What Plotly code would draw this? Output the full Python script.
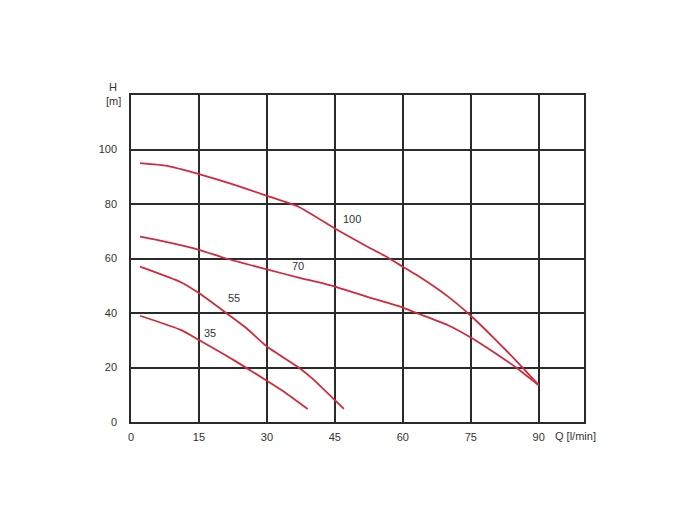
import plotly.graph_objects as go

q_100 = [2, 8, 15, 22, 30, 37, 45, 52, 56, 60, 63, 70, 75, 80, 85, 90]
h_100 = [95, 94, 91, 87.5, 83, 79, 71, 64.5, 61, 57, 54, 46, 39, 31, 22.5, 13.5]

q_70 = [2, 8, 15, 21, 30, 37, 45, 52, 60, 63, 70, 75, 81, 85, 90]
h_70 = [68, 66, 63.2, 60, 56, 53, 49.7, 46, 42, 40, 35.5, 31, 24.6, 20, 13.5]

q_55 = [2, 11, 15, 21, 25.5, 30, 37, 40, 45, 47]
h_55 = [57, 51.3, 47.3, 40, 34.4, 27.7, 20, 16, 8, 4.8]

q_35 = [2, 11, 15, 22.6, 30, 34.3, 39]
h_35 = [39, 33.8, 30.1, 22.8, 15.1, 10.5, 4.8]

curve_names = ["100", "70", "55", "35"]
label_q = [48.8, 36.8, 22.8, 17.4]
label_h = [74.6, 57.4, 45.6, 32.7]

x_ticks = [0, 15, 30, 45, 60, 75, 90]
y_ticks = [0, 20, 40, 60, 80, 100]

RED = "#d22a3c"
GRID = "#2b2b2b"
TXT = "#333333"
FONT = "Liberation Sans, Arial, sans-serif"

fig = go.Figure()
for q, h in [(q_100, h_100), (q_70, h_70), (q_55, h_55), (q_35, h_35)]:
    fig.add_trace(go.Scatter(x=q, y=h, mode="lines",
                             line=dict(color=RED, width=1.8, shape="spline", smoothing=0.5),
                             showlegend=False, hoverinfo="skip"))

for name, lq, lh in zip(curve_names, label_q, label_h):
    fig.add_annotation(x=lq, y=lh, text=name, showarrow=False,
                       font=dict(family=FONT, size=11, color=TXT))

fig.add_annotation(xref="paper", yref="paper", x=0, y=1, xshift=-18, yshift=8,
                   xanchor="center", yanchor="middle", text="H",
                   showarrow=False, font=dict(family=FONT, size=11, color=TXT))
fig.add_annotation(xref="paper", yref="paper", x=0, y=1, xshift=-18, yshift=-6,
                   xanchor="center", yanchor="middle", text="[m]",
                   showarrow=False, font=dict(family=FONT, size=11, color=TXT))
fig.add_annotation(xref="paper", yref="paper", x=1, y=0, xshift=-31, yshift=-14,
                   xanchor="left", yanchor="middle", text="Q [l/min]",
                   showarrow=False, font=dict(family=FONT, size=11, color=TXT))

fig.update_layout(
    width=700, height=520,
    margin=dict(l=123, r=124, t=87, b=106),
    paper_bgcolor="white", plot_bgcolor="white",
    font=dict(family=FONT, size=11, color=TXT),
    xaxis=dict(range=[0, 100], tickvals=x_ticks, ticktext=[str(v) for v in x_ticks],
               showgrid=True, gridcolor=GRID, gridwidth=1.5,
               showline=True, linecolor=GRID, linewidth=1.5, mirror=True,
               zeroline=False, ticks="", ticklabelstandoff=4),
    yaxis=dict(range=[0, 120], tickvals=y_ticks, ticktext=[str(v) for v in y_ticks],
               showgrid=True, gridcolor=GRID, gridwidth=1.5,
               showline=True, linecolor=GRID, linewidth=1.5, mirror=True,
               zeroline=False, ticks="", ticklabelstandoff=10),
)

fig.write_html("out.html")
